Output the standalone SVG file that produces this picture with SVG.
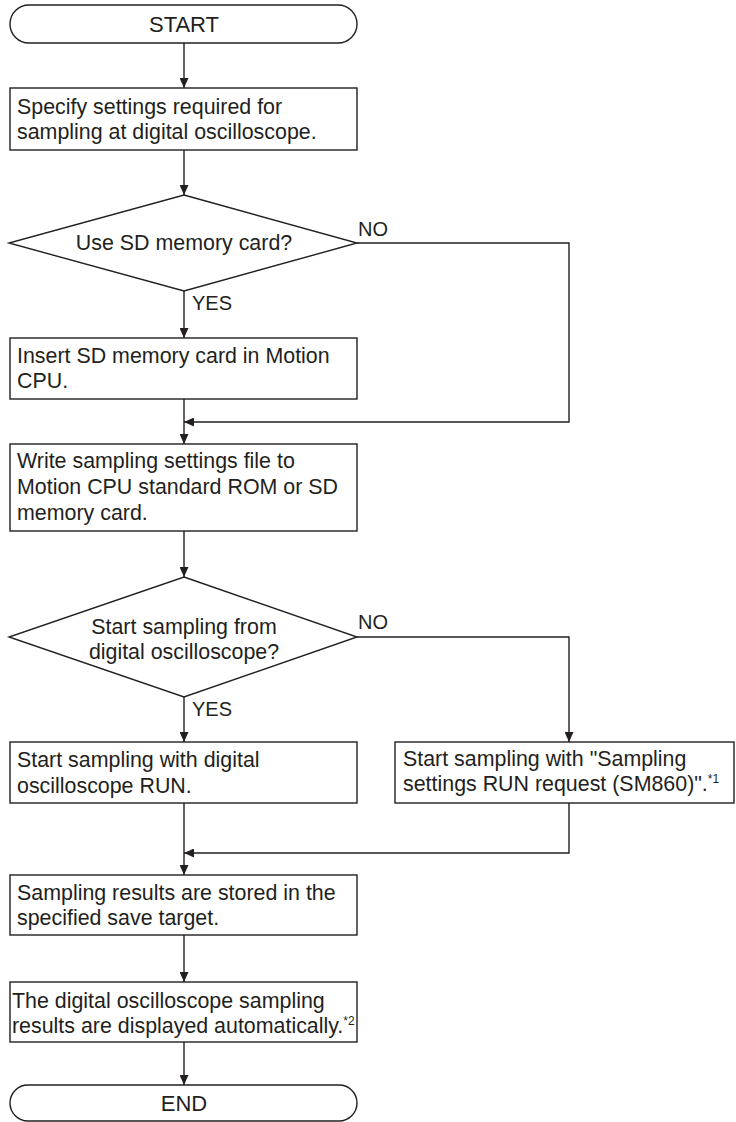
<svg xmlns="http://www.w3.org/2000/svg" width="736" height="1122" viewBox="0 0 736 1122">
<defs>
<style>
.shape{fill:#ffffff;stroke:#231f20;stroke-width:1.4}
.conn{fill:none;stroke:#231f20;stroke-width:1.4}
.t{font-family:"Liberation Sans",Arial,Helvetica,sans-serif;font-size:21.4px;fill:#231f20}
.term{font-family:"Liberation Sans",Arial,Helvetica,sans-serif;font-size:22px;fill:#231f20;text-anchor:middle}
.lbl{font-family:"Liberation Sans",Arial,Helvetica,sans-serif;font-size:20px;fill:#231f20}
.mid{text-anchor:middle}
.sup{font-size:12px}
</style>
<marker id="arr" viewBox="0 0 10 9" markerWidth="10" markerHeight="9" refX="10" refY="4.5" orient="auto" markerUnits="userSpaceOnUse">
<path d="M0,0 L10,4.5 L0,9 z" fill="#231f20"/>
</marker>
</defs>
<rect width="736" height="1122" fill="#ffffff"/>

<g id="connectors">
<path class="conn" d="M184,43 V88" marker-end="url(#arr)"/>
<path class="conn" d="M184,150 V195" marker-end="url(#arr)"/>
<path class="conn" d="M184,291 V338" marker-end="url(#arr)"/>
<path class="conn" d="M357,243 H569 V422 H184" marker-end="url(#arr)"/>
<path class="conn" d="M184,399 V444" marker-end="url(#arr)"/>
<path class="conn" d="M184,531 V577" marker-end="url(#arr)"/>
<path class="conn" d="M184,697 V742" marker-end="url(#arr)"/>
<path class="conn" d="M357,637 H569 V742" marker-end="url(#arr)"/>
<path class="conn" d="M184,803 V875" marker-end="url(#arr)"/>
<path class="conn" d="M569,803 V853 H184" marker-end="url(#arr)"/>
<path class="conn" d="M184,935 V982" marker-end="url(#arr)"/>
<path class="conn" d="M184,1042 V1085" marker-end="url(#arr)"/>
<text class="lbl" x="358" y="236">NO</text>
<text class="lbl" x="192" y="310">YES</text>
<text class="lbl" x="358" y="629">NO</text>
<text class="lbl" x="192" y="716">YES</text>
</g>

<g id="start">
<rect class="shape" x="10" y="5" width="347" height="38" rx="19" ry="19"/>
<text class="term" x="184" y="32">START</text>
</g>

<g id="specify">
<rect class="shape" x="10" y="88" width="347" height="62"/>
<text class="t" x="17" y="114">Specify settings required for</text>
<text class="t" x="17" y="139">sampling at digital oscilloscope.</text>
</g>

<g id="dec-sd">
<polygon class="shape" points="184,195 357,243 184,291 9,243"/>
<text class="t mid" x="184" y="250">Use SD memory card?</text>
</g>

<g id="insert-sd">
<rect class="shape" x="10" y="338" width="347" height="61"/>
<text class="t" x="17" y="363">Insert SD memory card in Motion</text>
<text class="t" x="17" y="388">CPU.</text>
</g>

<g id="write-settings">
<rect class="shape" x="10" y="444" width="347" height="87"/>
<text class="t" x="17" y="468">Write sampling settings file to</text>
<text class="t" x="17" y="494">Motion CPU standard ROM or SD</text>
<text class="t" x="17" y="520">memory card.</text>
</g>

<g id="dec-start">
<polygon class="shape" points="184,577 357,637 184,697 9,637"/>
<text class="t mid" x="184" y="634">Start sampling from</text>
<text class="t mid" x="184" y="659">digital oscilloscope?</text>
</g>

<g id="start-osc">
<rect class="shape" x="10" y="742" width="347" height="61"/>
<text class="t" x="17" y="767">Start sampling with digital</text>
<text class="t" x="17" y="793">oscilloscope RUN.</text>
</g>

<g id="start-sm860">
<rect class="shape" x="395" y="742" width="339" height="61"/>
<text class="t" x="403" y="766">Start sampling with "Sampling</text>
<text class="t" x="403" y="791">settings RUN request (SM860)".<tspan class="sup" dy="-8">*1</tspan></text>
</g>

<g id="stored">
<rect class="shape" x="10" y="875" width="347" height="60"/>
<text class="t" x="17" y="900">Sampling results are stored in the</text>
<text class="t" x="17" y="925">specified save target.</text>
</g>

<g id="displayed">
<rect class="shape" x="10" y="982" width="347" height="60"/>
<text class="t" x="12" y="1008">The digital oscilloscope sampling</text>
<text class="t" x="12" y="1033">results are displayed automatically.<tspan class="sup" dy="-8">*2</tspan></text>
</g>

<g id="end">
<rect class="shape" x="10" y="1085" width="347" height="36" rx="18" ry="18"/>
<text class="term" x="184" y="1111">END</text>
</g>
</svg>
